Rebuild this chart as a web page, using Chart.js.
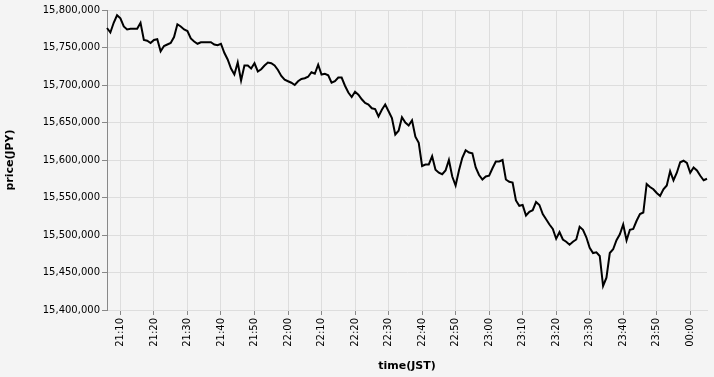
<!DOCTYPE html>
<html>
<head>
<meta charset="utf-8">
<script src="https://cdn.jsdelivr.net/npm/chart.js@4"></script>
<style>
  html, body { margin: 0; padding: 0; background: #f4f4f4; }
  #wrap { width: 714px; height: 377px; }
</style>
</head>
<body>
<div id="wrap"><canvas id="priceChart"></canvas></div>
<script>
// one price per minute, starting at 21:06 JST
const startTime = '21:06';

const tickLabels = ['21:10', '21:20', '21:30', '21:40', '21:50', '22:00', '22:10', '22:20', '22:30',
  '22:40', '22:50', '23:00', '23:10', '23:20', '23:30', '23:40', '23:50', '00:00'];

const prices = [
  15776000, 15770000, 15783000, 15793000, 15789000, 15778000, 15774000, 15775000, 15775000, 15775000,
  15783000, 15760000, 15759000, 15756000, 15760000, 15761000, 15745000, 15752000, 15754000, 15756000,
  15764000, 15781000, 15778000, 15774000, 15772000, 15762000, 15758000, 15755000, 15757000, 15757000,
  15757000, 15757000, 15754000, 15753000, 15755000, 15743000, 15734000, 15722000, 15714000, 15730000,
  15706000, 15726000, 15726000, 15722000, 15729000, 15718000, 15721000, 15726000, 15730000, 15729000,
  15726000, 15720000, 15712000, 15707000, 15705000, 15703000, 15700000, 15705000, 15708000, 15709000,
  15711000, 15717000, 15715000, 15727000, 15714000, 15715000, 15713000, 15703000, 15705000, 15710000,
  15710000, 15699000, 15690000, 15684000, 15691000, 15687000, 15681000, 15676000, 15674000, 15669000,
  15668000, 15658000, 15667000, 15674000, 15665000, 15656000, 15634000, 15639000, 15657000, 15650000,
  15646000, 15653000, 15631000, 15623000, 15592000, 15594000, 15594000, 15605000, 15587000, 15583000,
  15581000, 15586000, 15600000, 15578000, 15566000, 15586000, 15603000, 15613000, 15610000, 15609000,
  15590000, 15580000, 15574000, 15578000, 15579000, 15589000, 15598000, 15598000, 15600000, 15574000,
  15571000, 15570000, 15546000, 15539000, 15540000, 15526000, 15531000, 15533000, 15544000, 15540000,
  15528000, 15521000, 15514000, 15508000, 15495000, 15504000, 15494000, 15491000, 15487000, 15491000,
  15494000, 15511000, 15507000, 15497000, 15483000, 15476000, 15477000, 15472000, 15432000, 15443000,
  15476000, 15481000, 15493000, 15501000, 15514000, 15493000, 15507000, 15508000, 15519000, 15528000,
  15530000, 15568000, 15564000, 15561000, 15556000, 15552000, 15561000, 15566000, 15585000, 15573000,
  15583000, 15597000, 15599000, 15596000, 15583000, 15590000, 15586000, 15579000, 15573000, 15575000
];

const yMin = 15400000;
const yMax = 15800000;
const yStep = 50000;

// minute labels HH:MM for each price
const times = [];
let [hh, mm] = startTime.split(':').map(Number);
for (let i = 0; i < prices.length; i++) {
  times.push(String(hh).padStart(2, '0') + ':' + String(mm).padStart(2, '0'));
  mm++;
  if (mm === 60) { mm = 0; hh = (hh + 1) % 24; }
}

const labelFont = { family: 'DejaVu Sans', size: 10 };
const titleFont = { family: 'DejaVu Sans', size: 11, weight: 'bold' };

const ctx = document.getElementById('priceChart').getContext('2d');
const priceChart = new Chart(ctx, {
  type: 'line',
  data: {
    labels: times,
    datasets: [{
      label: 'price',
      data: prices,
      borderColor: '#000',
      borderWidth: 2,
      pointRadius: 0,
      tension: 0,
      fill: false
    }]
  },
  options: {
    responsive: true,
    maintainAspectRatio: false,
    animation: false,
    layout: { padding: { top: 10, right: 7, left: 0, bottom: 0 } },
    plugins: {
      legend: { display: false },
      tooltip: { enabled: false }
    },
    scales: {
      x: {
        type: 'category',
        offset: false,
        afterBuildTicks: s => {
          s.ticks = s.ticks.filter(t => tickLabels.includes(times[t.value]));
        },
        afterFit: s => { s.height = 67; },
        grid: { color: '#ddd', tickColor: '#888', tickLength: 5 },
        border: { color: '#ddd' },
        ticks: {
          autoSkip: false,
          maxRotation: 90,
          minRotation: 90,
          padding: 3,
          color: '#000',
          font: labelFont
        },
        title: { display: true, text: 'time(JST)', color: '#000', font: titleFont, padding: { top: 4, bottom: 4 } }
      },
      y: {
        min: yMin,
        max: yMax,
        afterFit: s => { s.width = 107; },
        grid: { color: '#ddd', tickColor: '#888', tickLength: 5 },
        border: { color: '#888' },
        ticks: {
          stepSize: yStep,
          padding: 2,
          color: '#000',
          font: labelFont,
          callback: v => v.toLocaleString('en-US')
        },
        title: { display: true, text: 'price(JPY)', color: '#000', font: titleFont, padding: { top: 4, bottom: 4 } }
      }
    }
  }
});
</script>
</body>
</html>
